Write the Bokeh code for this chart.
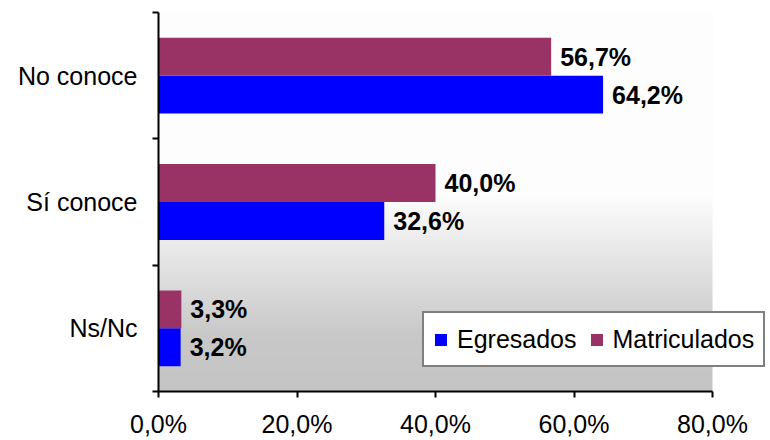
import numpy as np
from bokeh.plotting import figure
from bokeh.models import ColumnDataSource, FixedTicker, Legend, LegendItem, Range1d
from bokeh.embed import file_html
from bokeh.resources import INLINE
from bokeh.core.properties import value

# ---- data ----
categories = ["Ns/Nc", "Sí conoce", "No conoce"]
egresados = [3.2, 32.6, 64.2]
matriculados = [3.3, 40.0, 56.7]
series_names = ["Egresados", "Matriculados"]
series_colors = ["#0000FF", "#993366"]
x_ticks = [0, 20, 40, 60, 80]
x_tick_labels = ["0,0%", "20,0%", "40,0%", "60,0%", "80,0%"]


def fmt(v):
    return f"{v:.1f}".replace(".", ",") + "%"


FONT = "Liberation Sans"
centers = [i + 0.5 for i in range(len(categories))]
bar_h = 0.3
off = 0.15

# plot area spans 0..80 over 554 px; frame extends further right (white) to hold the legend
frame_left, frame_right, axis_px = 158, 770, 554
x_end = x_ticks[-1] * (frame_right - frame_left) / axis_px

p = figure(width=770, height=440, output_backend="svg", toolbar_location=None,
           x_range=Range1d(x_ticks[0], x_end), y_range=Range1d(0, len(categories)),
           min_border_left=frame_left, min_border_right=0, min_border_top=12, min_border_bottom=49)
p.outline_line_color = None
p.grid.visible = False
p.background_fill_color = "white"
p.border_fill_color = "white"

# gradient background of plot area (white top -> grey bottom)
N = 380
img = np.zeros((N, 1), dtype=np.uint32)
view = img.view(dtype=np.uint8).reshape((N, 1, 4))
for r in range(N):
    t = 1 - (r + 0.5) / N  # 0 at top, 1 at bottom
    if t < 0.48:
        g = 253
    elif t < 0.85:
        g = 253 - (253 - 200) * (t - 0.48) / 0.37
    else:
        g = 200 - 4 * (t - 0.85) / 0.15
    g = int(round(g))
    view[r, 0, :] = [g, g, g, 255]
p.image_rgba(image=[img], x=x_ticks[0], y=0, dw=x_ticks[-1] - x_ticks[0], dh=len(categories))

src = ColumnDataSource(dict(
    y_e=[c - off for c in centers],
    y_m=[c + off for c in centers],
    egr=egresados,
    mat=matriculados,
    egr_lab=[fmt(v) for v in egresados],
    mat_lab=[fmt(v) for v in matriculados],
))

r_e = p.hbar(y="y_e", right="egr", left=0, height=bar_h, source=src,
             fill_color=series_colors[0], line_color=None)
r_m = p.hbar(y="y_m", right="mat", left=0, height=bar_h, source=src,
             fill_color=series_colors[1], line_color=None)

for xcol, ycol, lcol in [("egr", "y_e", "egr_lab"), ("mat", "y_m", "mat_lab")]:
    p.text(x=xcol, y=ycol, text=lcol, source=src, x_offset=9,
           text_baseline="middle", text_align="left",
           text_font=value(FONT), text_font_style="bold",
           text_font_size="25px", text_color="black")

# axes
xa = p.xaxis[0]
xa.ticker = FixedTicker(ticks=x_ticks)
xa.bounds = (x_ticks[0], x_ticks[-1])
xa.major_label_overrides = {t: l for t, l in zip(x_ticks, x_tick_labels)}
xa.major_tick_out = 6
xa.major_tick_in = 0
xa.minor_tick_out = 0
xa.minor_tick_in = 0
xa.major_label_standoff = 12
xa.major_label_text_line_height = 1.0

ya = p.yaxis[0]
ya.ticker = FixedTicker(ticks=centers, minor_ticks=list(range(len(categories) + 1)))
ya.major_label_overrides = {c: n for c, n in zip(centers, categories)}
ya.major_tick_out = 0
ya.major_tick_in = 0
ya.minor_tick_out = 6
ya.minor_tick_in = 0
ya.major_label_standoff = 15

for ax in (xa, ya):
    ax.axis_line_color = "black"
    ax.axis_line_width = 2
    ax.major_tick_line_color = "black"
    ax.major_tick_line_width = 2
    ax.minor_tick_line_color = "black"
    ax.minor_tick_line_width = 2
    ax.major_label_text_font = FONT
    ax.major_label_text_font_size = "25px"
    ax.major_label_text_color = "black"

legend = Legend(items=[LegendItem(label=series_names[0], renderers=[r_e]),
                       LegendItem(label=series_names[1], renderers=[r_m])],
                location=(264, 24), orientation="horizontal")
legend.border_line_color = "black"
legend.border_line_width = 2
legend.background_fill_color = "white"
legend.background_fill_alpha = 1
legend.label_text_font = FONT
legend.label_text_font_size = "25px"
legend.label_text_color = "black"
legend.glyph_width = 15
legend.glyph_height = 15
legend.label_standoff = 9
legend.spacing = 12
legend.padding = 9
legend.label_height = 34
legend.margin = 0
p.add_layout(legend, "center")

open("out.html", "w").write(file_html(p, INLINE))
